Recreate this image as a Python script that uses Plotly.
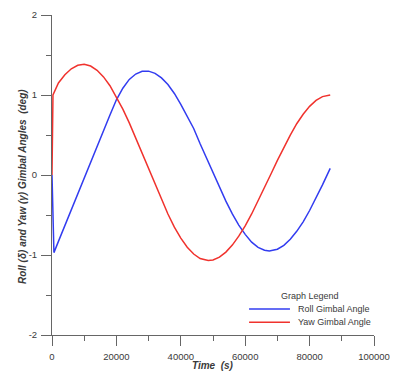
import plotly.graph_objects as go

# ---- data ----
roll_t = [0, 600, 2000, 4000, 6000, 8000, 10000, 12000, 14000, 16000, 18000, 20000,
          22000, 24000, 26000, 28000, 29200, 30000, 32000, 34000, 36000, 38000, 40000,
          42000, 44000, 46000, 48000, 50000, 52000, 54000, 56000, 58000, 60000, 62000,
          64000, 66000, 67500, 70000, 72000, 74000, 76000, 78000, 80000, 82000, 84000, 86400]
roll_v = [0.0, -0.97, -0.83, -0.63, -0.435, -0.235, -0.04, 0.16, 0.355, 0.555, 0.75, 0.94,
          1.085, 1.195, 1.262, 1.297, 1.30, 1.298, 1.27, 1.214, 1.132, 1.019, 0.883,
          0.735, 0.581, 0.39, 0.207, 0.023, -0.156, -0.327, -0.486, -0.626, -0.742, -0.839,
          -0.904, -0.941, -0.95, -0.928, -0.879, -0.803, -0.704, -0.585, -0.444, -0.288, -0.124, 0.082]

yaw_t = [0, 300, 2000, 4000, 6000, 8000, 10000, 12000, 14000, 16000, 18000, 20000,
         22000, 24000, 26000, 28000, 30000, 32000, 34000, 36000, 38000, 40000, 42000,
         44000, 46000, 48000, 48500, 50000, 52000, 54000, 56000, 58000, 60000, 62000, 64000,
         66000, 68000, 70000, 72000, 74000, 76000, 78000, 80000, 82000, 84000, 86000, 86400]
yaw_v = [0.0, 1.0, 1.151, 1.254, 1.328, 1.371, 1.383, 1.362, 1.309, 1.226, 1.116, 0.979,
         0.824, 0.652, 0.461, 0.266, 0.068, -0.127, -0.317, -0.488, -0.652, -0.789, -0.903,
         -0.988, -1.044, -1.069, -1.07, -1.062, -1.027, -0.964, -0.876, -0.765, -0.636, -0.487, -0.326,
         -0.159, 0.012, 0.182, 0.345, 0.499, 0.641, 0.759, 0.858, 0.932, 0.98, 0.999, 1.0]

x_ticks = [0, 20000, 40000, 60000, 80000, 100000]
x_ticktext = ["0", "20000", "40000", "60000", "80000", "100000"]
y_ticks = [-2, -1, 0, 1, 2]
y_ticktext = ["-2", "-1", "0", "1", "2"]

series_names = ["Roll Gimbal Angle", "Yaw Gimbal Angle"]
series_colors = ["rgb(50,60,240)", "rgb(240,50,45)"]
legend_title = "Graph Legend"

FONT = "Liberation Sans, Arial, sans-serif"
AXC = "#666666"
TXT = "#3a3a3a"

fig = go.Figure()
fig.add_trace(go.Scatter(x=roll_t, y=roll_v, mode="lines", name=series_names[0],
                         line=dict(color=series_colors[0], width=1.5), showlegend=False))
fig.add_trace(go.Scatter(x=yaw_t, y=yaw_v, mode="lines", name=series_names[1],
                         line=dict(color=series_colors[1], width=1.5), showlegend=False))

axis_common = dict(showgrid=False, zeroline=False, showline=True, linecolor=AXC, linewidth=1,
                   ticks="outside", ticklen=10, tickcolor=AXC, tickwidth=1, automargin=False,
                   tickfont=dict(family=FONT, size=9.5, color=TXT))

fig.update_xaxes(range=[0, 100000], tickvals=x_ticks, ticktext=x_ticktext, ticklabelstandoff=3,
                 minor=dict(dtick=10000, ticks="outside", ticklen=5, tickcolor=AXC, tickwidth=1),
                 **axis_common)
fig.update_yaxes(range=[-2, 2], tickvals=y_ticks, ticktext=y_ticktext, ticklabelstandoff=2,
                 minor=dict(dtick=0.5, ticks="outside", ticklen=5, tickcolor=AXC, tickwidth=1),
                 **axis_common)

fig.add_annotation(text="<b><i>Roll (δ) and Yaw (γ) Gimbal Angles\u00a0\u00a0(deg)</i></b>",
                   xref="paper", yref="paper", x=-0.093, y=0.4625, textangle=-90,
                   showarrow=False, xanchor="center", yanchor="middle",
                   font=dict(family=FONT, size=10, color=TXT))
fig.add_annotation(text="<b><i>Time\u00a0\u00a0(s)</i></b>",
                   xref="paper", yref="paper", x=0.5, y=-0.094,
                   showarrow=False, xanchor="center", yanchor="middle",
                   font=dict(family=FONT, size=10, color=TXT))

# manual legend (compact, like the original)
fig.add_annotation(text=legend_title, xref="paper", yref="paper", x=0.80, y=0.1228,
                   showarrow=False, xanchor="center", yanchor="middle",
                   font=dict(family=FONT, size=9, color=TXT))
leg_y = [0.0813, 0.0397]
for name, col, yy in zip(series_names, series_colors, leg_y):
    fig.add_shape(type="line", xref="paper", yref="paper", x0=0.612, x1=0.739, y0=yy, y1=yy,
                  line=dict(color=col, width=1.5))
    fig.add_annotation(text=name, xref="paper", yref="paper", x=0.758, y=yy,
                       showarrow=False, xanchor="left", yanchor="middle",
                       font=dict(family=FONT, size=9, color=TXT))

fig.update_layout(
    width=394, height=372,
    margin=dict(l=52, r=20, t=15, b=37),
    plot_bgcolor="white", paper_bgcolor="white",
    showlegend=False,
)

fig.write_html("out.html")
